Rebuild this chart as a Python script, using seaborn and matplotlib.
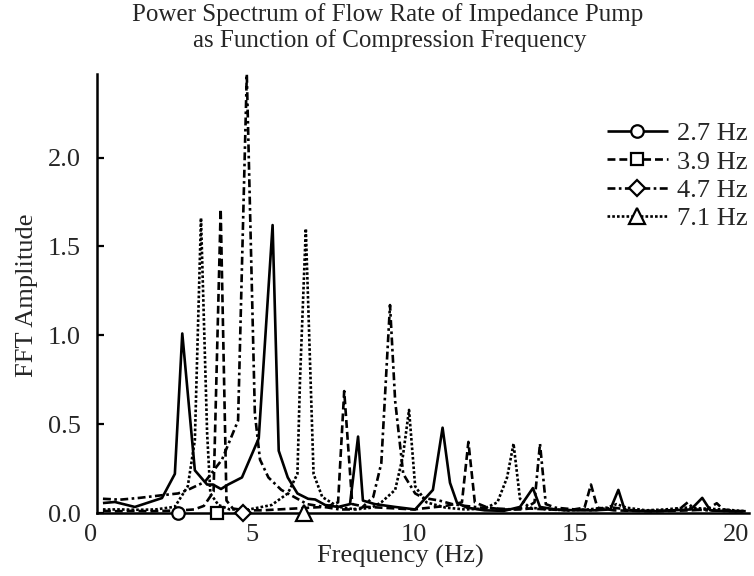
import matplotlib
matplotlib.use("Agg")
import matplotlib.pyplot as plt
from matplotlib.lines import Line2D
import seaborn as sns
import pandas as pd

# ---------------- data ----------------
labels = ["2.7 Hz", "3.9 Hz", "4.7 Hz", "7.1 Hz"]
marker_x = [2.7, 3.9, 4.7, 6.6]

x_27 = [0.37, 0.74, 1.36, 2.2, 2.6, 2.83, 3.22, 3.6, 3.78, 4.03, 4.25, 4.68, 5.2, 5.63, 5.82,
        6.1, 6.4, 6.73, 6.95, 7.26, 7.66, 8.03, 8.28, 8.43, 8.8, 9.43, 10.05, 10.6, 10.9, 11.13,
        11.35, 11.66, 12.2, 12.8, 13.3, 13.7, 13.92, 14.4, 15.0, 15.6, 16.1, 16.35, 16.55, 17.0,
        17.5, 18.0, 18.6, 18.95, 19.2, 19.8, 20.3]
y_27 = [0.056, 0.062, 0.034, 0.084, 0.22, 1.01, 0.24, 0.16, 0.16, 0.135, 0.16, 0.2, 0.42, 1.62, 0.35,
        0.2, 0.11, 0.08, 0.076, 0.045, 0.034, 0.05, 0.43, 0.07, 0.05, 0.034, 0.02, 0.13, 0.48, 0.17,
        0.056, 0.03, 0.015, 0.012, 0.034, 0.14, 0.034, 0.02, 0.015, 0.015, 0.02, 0.13, 0.015, 0.012,
        0.01, 0.015, 0.02, 0.085, 0.015, 0.01, 0.01]

x_39 = [0.37, 0.8, 1.3, 1.8, 2.3, 2.8, 3.2, 3.5, 3.8, 4.02, 4.2, 4.4, 4.8, 5.3, 5.8, 6.3, 6.8, 7.3,
        7.66, 7.85, 8.1, 8.5, 9.0, 9.5, 10.0, 10.5, 11.0, 11.5, 11.7, 11.9, 12.3, 12.8, 13.3, 13.6,
        14.2, 14.8, 15.3, 15.5, 15.7, 16.2, 16.8, 17.4, 18.0, 18.6, 19.1, 19.4, 19.6, 20.0, 20.3]
y_39 = [0.012, 0.01, 0.012, 0.01, 0.012, 0.015, 0.02, 0.04, 0.12, 1.71, 0.07, 0.025, 0.015, 0.015,
        0.02, 0.025, 0.03, 0.035, 0.06, 0.686, 0.05, 0.035, 0.03, 0.025, 0.02, 0.03, 0.04, 0.06, 0.40,
        0.06, 0.03, 0.02, 0.02, 0.025, 0.02, 0.015, 0.03, 0.16, 0.03, 0.015, 0.012, 0.01, 0.012, 0.015,
        0.02, 0.055, 0.02, 0.01, 0.01]

x_47 = [0.37, 0.9, 1.5, 2.2, 2.7, 3.0, 3.53, 4.06, 4.56, 4.83, 5.08, 5.24, 5.5, 5.9, 6.3, 6.7, 7.2,
        7.7, 8.1, 8.4, 8.75, 9.0, 9.27, 9.43, 9.68, 10.05, 10.3, 10.8, 11.2, 11.6, 12.1, 12.6, 13.1,
        13.5, 13.75, 13.92, 14.1, 14.4, 15.0, 15.6, 16.2, 16.8, 17.4, 18.0, 18.3, 18.5, 18.7, 19.1,
        19.6, 20.0, 20.3]
y_47 = [0.08, 0.075, 0.085, 0.1, 0.11, 0.13, 0.175, 0.3, 0.52, 2.47, 0.56, 0.3, 0.2, 0.13, 0.09,
        0.05, 0.035, 0.02, 0.02, 0.03, 0.09, 0.28, 1.17, 0.63, 0.22, 0.11, 0.085, 0.07, 0.05, 0.04,
        0.03, 0.025, 0.02, 0.03, 0.06, 0.39, 0.05, 0.03, 0.02, 0.015, 0.03, 0.015, 0.012, 0.015, 0.03,
        0.06, 0.02, 0.015, 0.012, 0.01, 0.01]

x_71 = [0.37, 0.9, 1.5, 2.0, 2.6, 3.0, 3.22, 3.41, 3.6, 3.7, 3.95, 4.3, 4.9, 5.6, 6.1, 6.4, 6.48,
        6.66, 6.9, 7.17, 7.66, 8.2, 8.7, 9.0, 9.43, 9.67, 9.86, 10.05, 10.4, 11.0, 11.6, 12.2, 12.6,
        12.9, 13.1, 13.3, 13.6, 14.2, 14.8, 15.4, 16.0, 16.3, 16.6, 17.2, 17.8, 18.4, 19.0, 19.6, 20.3]
y_71 = [0.02, 0.02, 0.018, 0.02, 0.035, 0.15, 0.41, 1.66, 0.45, 0.11, 0.045, 0.02, 0.02, 0.045,
        0.11, 0.22, 0.75, 1.60, 0.22, 0.09, 0.035, 0.02, 0.03, 0.06, 0.13, 0.32, 0.58, 0.15, 0.06,
        0.03, 0.02, 0.025, 0.06, 0.2, 0.39, 0.08, 0.03, 0.02, 0.015, 0.02, 0.03, 0.05, 0.03, 0.015,
        0.02, 0.03, 0.025, 0.02, 0.01]

title_lines = ["Power Spectrum of Flow Rate of Impedance Pump", "as Function of Compression Frequency"]

# ---------------- style ----------------
sns.set_theme(style="white")
plt.rcParams["font.family"] = ["Liberation Serif", "DejaVu Serif"]
plt.rcParams["lines.solid_capstyle"] = "butt"
plt.rcParams["lines.dash_capstyle"] = "butt"

LW = 1.9
styles = [
    "-",
    (0, (3.0, 1.5)),
    (0, (3.0, 1.3, 1.0, 1.3)),
    (0, (1.0, 0.8)),
]
markers = ["o", "s", "D", "^"]
msizes = [9, 8, 8.5, 12]

fig = plt.figure(figsize=(7.54, 5.76), dpi=100)
ax = fig.add_axes([91 / 754, 1 - 513 / 576, (749 - 91) / 754, (513 - 74) / 576])

series = [(x_27, y_27), (x_39, y_39), (x_47, y_47), (x_71, y_71)]
for (xs, ys), ls, lab in zip(series, styles, labels):
    df = pd.DataFrame({"f": xs, "a": ys})
    sns.lineplot(data=df, x="f", y="a", ax=ax, color="black", linewidth=LW,
                 linestyle=ls, estimator=None, sort=True, legend=False)

for mx, mk, ms in zip(marker_x, markers, msizes):
    ax.plot([mx], [0], marker=mk, markersize=ms, markerfacecolor="white",
            markeredgecolor="black", markeredgewidth=1.6, linestyle="none",
            clip_on=False, zorder=10)

ax.set_xlim(0, 20.4)
ax.set_ylim(0, 2.47)
ax.set_xticks([0, 5, 10, 15, 20])
ax.set_yticks([0, 0.5, 1.0, 1.5, 2.0])
ax.set_yticklabels(["0.0", "0.5", "1.0", "1.5", "2.0"])

for s in ["top", "right"]:
    ax.spines[s].set_visible(False)
ax.spines["left"].set_position(("data", 0.19))
ax.spines["left"].set_linewidth(1.8)
ax.spines["bottom"].set_linewidth(1.8)
ax.spines["left"].set_color("black")
ax.spines["bottom"].set_color("black")
ax.spines["bottom"].set_bounds(0.19, 20.4)

ax.tick_params(axis="y", direction="in", length=5, width=1.6, color="black",
               labelsize=19, pad=12, left=True)
ax.tick_params(axis="x", length=0, labelsize=19, pad=8)

ax.set_xlabel("Frequency (Hz)", fontsize=19, labelpad=0)
ax.xaxis.set_label_coords((400 - 91) / 658, -0.073)
ax.set_ylabel("FFT Amplitude", fontsize=19)
ax.yaxis.set_label_coords(-0.08, 0.497)

fig.text(388 / 754, 1 - 15 / 576, title_lines[0], ha="center", va="center", fontsize=18)
fig.text(390 / 754, 1 - 41 / 576, title_lines[1], ha="center", va="center", fontsize=18)

handles = []
for ls, mk, ms in zip(styles, markers, msizes):
    handles.append(Line2D([0], [0], color="black", linewidth=LW, linestyle=ls, marker=mk,
                          markersize=ms, markerfacecolor="white", markeredgecolor="black",
                          markeredgewidth=1.6))
leg = fig.legend(handles, labels, loc="upper left", bbox_to_anchor=(607 / 754, 1 - 122 / 576),
                 frameon=False, fontsize=19, handlelength=2.3, handletextpad=0.34,
                 labelspacing=0.18, borderpad=0, borderaxespad=0)

fig.savefig("out.png", dpi=100)
